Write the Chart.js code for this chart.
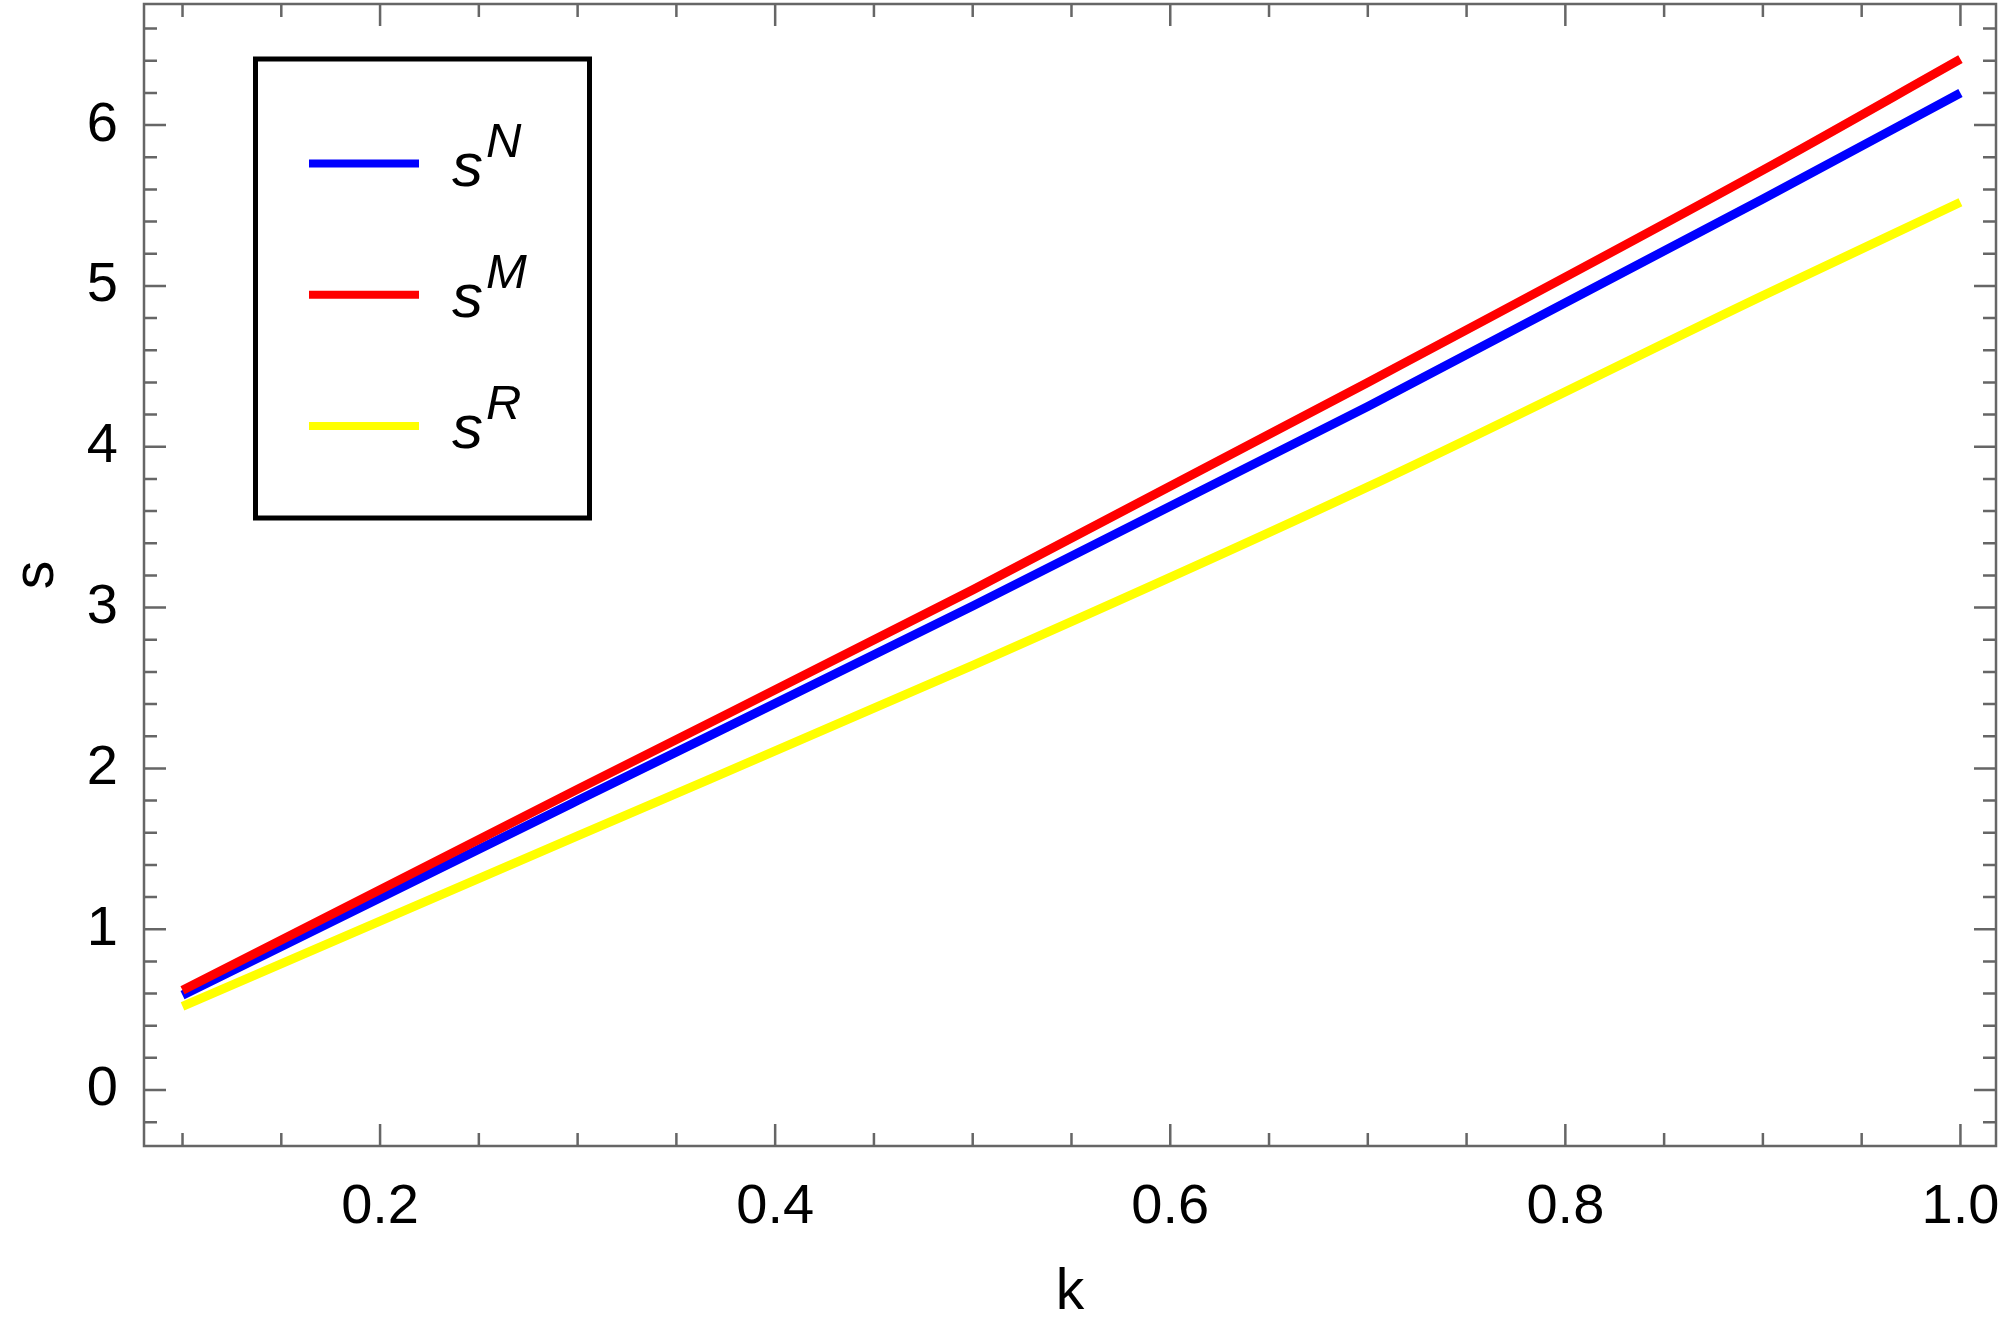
<!DOCTYPE html>
<html>
<head>
<meta charset="utf-8">
<script src="https://cdn.jsdelivr.net/npm/chart.js@4.4.0/dist/chart.umd.min.js"></script>
<style>
  html, body { margin: 0; padding: 0; background: #fff; }
  #wrap { width: 2000px; height: 1327px; position: relative; }
</style>
</head>
<body>
<div id="wrap"><canvas id="grafico" width="2000" height="1327"></canvas></div>
<script>
// valores
const valoresK = [0.1, 0.3, 0.5, 0.7, 0.9, 1.0];
const sN = [0.59, 1.80, 3.01, 4.25, 5.54, 6.20];
const sM = [0.62, 1.87, 3.11, 4.40, 5.72, 6.41];
const sR = [0.52, 1.58, 2.64, 3.75, 4.94, 5.52];

const etiquetas = ['N', 'M', 'R'];
const colores = ['#0000ff', '#ff0000', '#ffff00'];

const ticksX = [0.2, 0.4, 0.6, 0.8, 1.0];
const ticksY = [0, 1, 2, 3, 4, 5, 6];

const fuente = '"Liberation Sans", Arial, sans-serif';

function puntos(ys) {
  return valoresK.map((k, i) => ({ x: k, y: ys[i] }));
}

// marco con marcas hacia dentro, estilo Mathematica
const marcoPlugin = {
  id: 'marco',
  afterDraw(chart) {
    const ctx = chart.ctx;
    const a = chart.chartArea;
    const sx = chart.scales.x, sy = chart.scales.y;
    ctx.save();
    ctx.strokeStyle = '#666666';
    ctx.lineWidth = 2.5;
    ctx.strokeRect(a.left, a.top, a.right - a.left, a.bottom - a.top);

    ctx.beginPath();
    for (let i = 2; i <= 20; i++) {
      const v = i * 0.05;
      const px = sx.getPixelForValue(v);
      const largo = (i % 4 === 0) ? 22 : 13;
      ctx.moveTo(px, a.bottom); ctx.lineTo(px, a.bottom - largo);
      ctx.moveTo(px, a.top); ctx.lineTo(px, a.top + largo);
    }
    for (let i = -1; i <= 33; i++) {
      const v = i * 0.2;
      const py = sy.getPixelForValue(v);
      if (py < a.top || py > a.bottom) continue;
      const largo = (i % 5 === 0) ? 22 : 13;
      ctx.moveTo(a.left, py); ctx.lineTo(a.left + largo, py);
      ctx.moveTo(a.right, py); ctx.lineTo(a.right - largo, py);
    }
    ctx.stroke();
    ctx.restore();
  }
};

// leyenda con superíndices
const leyendaPlugin = {
  id: 'leyenda',
  afterDraw(chart) {
    const ctx = chart.ctx;
    ctx.save();
    ctx.strokeStyle = '#000';
    ctx.lineWidth = 5;
    ctx.strokeRect(255.5, 59, 334, 459);
    chart.data.datasets.forEach((ds, i) => {
      const y = 163.5 + i * 131.2;
      ctx.strokeStyle = ds.borderColor;
      ctx.lineWidth = 8;
      ctx.beginPath();
      ctx.moveTo(309, y);
      ctx.lineTo(419, y);
      ctx.stroke();
      ctx.fillStyle = '#000';
      ctx.textBaseline = 'alphabetic';
      ctx.textAlign = 'left';
      ctx.font = 'italic 62px ' + fuente;
      ctx.fillText('s', 452, y + 22);
      ctx.font = 'italic 49px ' + fuente;
      ctx.fillText(etiquetas[i], 486, y - 6.5);
    });
    ctx.restore();
  }
};

const ctx = document.getElementById('grafico').getContext('2d');
new Chart(ctx, {
  type: 'line',
  data: {
    datasets: [
      { label: 'sN', data: puntos(sN), borderColor: colores[0] },
      { label: 'sM', data: puntos(sM), borderColor: colores[1] },
      { label: 'sR', data: puntos(sR), borderColor: colores[2] }
    ].map((d, i) => Object.assign(d, {
      borderWidth: 9,
      pointRadius: 0,
      fill: false,
      cubicInterpolationMode: 'monotone',
      order: i === 0 ? 1 : (i === 1 ? 0 : 2)
    }))
  },
  options: {
    responsive: false,
    animation: false,
    layout: { padding: { top: 4, right: 4, left: 0, bottom: 0 } },
    plugins: {
      legend: { display: false },
      tooltip: { enabled: false }
    },
    scales: {
      x: {
        type: 'linear',
        min: 0.0805,
        max: 1.018,
        grid: { display: false },
        border: { display: false },
        afterBuildTicks: s => { s.ticks = ticksX.map(v => ({ value: v })); },
        afterFit: s => { s.height = 181; s.paddingLeft = 0; s.paddingRight = 0; },
        ticks: {
          autoSkip: false,
          maxRotation: 0,
          padding: 20,
          color: '#000',
          font: { family: fuente, size: 56 },
          callback: v => v.toFixed(1)
        },
        title: {
          display: true,
          text: 'k',
          color: '#000',
          font: { family: fuente, size: 57 },
          padding: { top: 0, bottom: 0 }
        }
      },
      y: {
        min: -0.348,
        max: 6.753,
        grid: { display: false },
        border: { display: false },
        afterBuildTicks: s => { s.ticks = ticksY.map(v => ({ value: v })); },
        afterFit: s => { s.width = 144; s.paddingTop = 0; s.paddingBottom = 0; },
        ticks: {
          autoSkip: false,
          padding: 18,
          color: '#000',
          font: { family: fuente, size: 56 },
          callback: v => String(v)
        },
        title: {
          display: true,
          text: 's',
          color: '#000',
          font: { family: fuente, size: 57 },
          padding: { top: 3, bottom: 0 }
        }
      }
    }
  },
  plugins: [marcoPlugin, leyendaPlugin]
});
</script>
</body>
</html>
